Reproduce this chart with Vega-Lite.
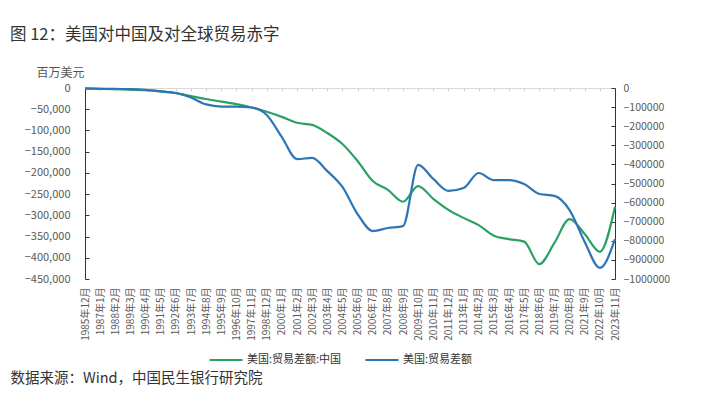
{
  "$schema": "https://vega.github.io/schema/vega-lite/v6.json",
  "width": 530,
  "height": 191,
  "autosize": {"type": "none"},
  "padding": {"left": 85, "top": 88, "right": 98, "bottom": 119},
  "background": "white",
  "config": {"font": "Noto Sans CJK SC", "view": {"stroke": null}},
  "title": {"text": "图 12：美国对中国及对全球贸易赤字", "anchor": "start", "frame": "group", "dx": -75, "offset": 10, "baseline": "alphabetic", "fontSize": 16.5, "fontWeight": "normal", "color": "#333333", "font": "Noto Sans CJK SC"},
  "data": {"values": [
    {"date": "1985年12月", "china": -1000, "total": -3000},
    {"date": "1987年1月", "china": -2000, "total": -4000},
    {"date": "1988年2月", "china": -3000, "total": -5000},
    {"date": "1989年3月", "china": -4000, "total": -6000},
    {"date": "1990年4月", "china": -5000, "total": -10000},
    {"date": "1991年5月", "china": -8000, "total": -18000},
    {"date": "1992年6月", "china": -12000, "total": -26000},
    {"date": "1993年7月", "china": -19000, "total": -50000},
    {"date": "1994年8月", "china": -26000, "total": -86000},
    {"date": "1995年9月", "china": -32000, "total": -97000},
    {"date": "1996年10月", "china": -38000, "total": -97000},
    {"date": "1997年11月", "china": -46000, "total": -102000},
    {"date": "1998年12月", "china": -56000, "total": -141000},
    {"date": "2000年1月", "china": -68000, "total": -257000},
    {"date": "2001年2月", "china": -82000, "total": -372000},
    {"date": "2002年3月", "china": -87000, "total": -366000},
    {"date": "2003年4月", "china": -106000, "total": -435000},
    {"date": "2004年5月", "china": -132000, "total": -518000},
    {"date": "2005年6月", "china": -172000, "total": -660000},
    {"date": "2006年7月", "china": -219000, "total": -749000},
    {"date": "2007年8月", "china": -240000, "total": -733000},
    {"date": "2008年9月", "china": -268000, "total": -723000},
    {"date": "2009年10月", "china": -231000, "total": -403000},
    {"date": "2010年11月", "china": -261000, "total": -476000},
    {"date": "2011年12月", "china": -287000, "total": -539000},
    {"date": "2013年1月", "china": -306000, "total": -524000},
    {"date": "2014年2月", "china": -323000, "total": -445000},
    {"date": "2015年3月", "china": -348000, "total": -482000},
    {"date": "2016年4月", "china": -356000, "total": -482000},
    {"date": "2017年5月", "china": -362000, "total": -503000},
    {"date": "2018年6月", "china": -415000, "total": -555000},
    {"date": "2019年7月", "china": -365000, "total": -565000},
    {"date": "2020年8月", "china": -309000, "total": -639000},
    {"date": "2021年9月", "china": -344000, "total": -806000},
    {"date": "2022年10月", "china": -386000, "total": -942000},
    {"date": "2023年11月", "china": -280000, "total": -791000}
  ]},
  "layer": [
    {
      "mark": {"type": "line", "interpolate": "monotone", "strokeWidth": 2.2},
      "encoding": {
        "x": {"field": "date", "type": "ordinal", "sort": null, "scale": {"type": "point", "padding": 0},
          "axis": {"orient": "bottom", "labelAngle": -90, "labelAlign": "right", "labelBaseline": "middle", "labelPadding": 8, "labelFontSize": 10, "labelColor": "#595959", "labelOverlap": false, "ticks": false, "domain": false,
            "title": "数据来源：Wind，中国民生银行研究院", "titleX": -75, "titleY": 103, "titleAlign": "left", "titleBaseline": "alphabetic", "titleAngle": 0, "titleFontSize": 14.5, "titleFontWeight": "normal", "titleColor": "#333333"}},
        "y": {"field": "china", "type": "quantitative", "scale": {"domain": [-450000, 0], "nice": false},
          "axis": {"orient": "left", "values": [0, -50000, -100000, -150000, -200000, -250000, -300000, -350000, -400000, -450000], "format": ",d", "grid": false, "tickSize": -4, "labelPadding": 19, "labelFontSize": 11, "labelColor": "#595959", "domainColor": "#333333", "tickColor": "#333333",
            "title": "百万美元", "titleAngle": 0, "titleX": -49, "titleY": -16, "titleAlign": "left", "titleBaseline": "middle", "titleFontSize": 12, "titleFontWeight": "normal", "titleColor": "#555555"}},
        "color": {"datum": "美国:贸易差额:中国", "type": "nominal",
          "scale": {"domain": ["美国:贸易差额:中国", "美国:贸易差额"], "range": ["#2aa162", "#2e75b6"]},
          "legend": {"orient": "none", "legendX": 123, "legendY": 254, "direction": "horizontal", "title": null, "symbolType": "stroke", "symbolSize": 1100, "symbolStrokeWidth": 2.2, "labelFontSize": 11, "labelColor": "#333333", "columnPadding": 19, "labelOffset": 3}}
      }
    },
    {
      "mark": {"type": "line", "interpolate": "monotone", "strokeWidth": 2.2},
      "encoding": {
        "x": {"field": "date", "type": "ordinal", "sort": null, "scale": {"type": "point", "padding": 0},
          "axis": {"orient": "top", "labels": false, "title": null, "domainColor": "#d9d9d9", "tickColor": "#cfcfcf", "tickSize": -3}},
        "y": {"field": "total", "type": "quantitative", "scale": {"domain": [-1000000, 0], "nice": false},
          "axis": {"orient": "right", "values": [0, -100000, -200000, -300000, -400000, -500000, -600000, -700000, -800000, -900000, -1000000], "format": "d", "grid": false, "tickSize": -4, "labelPadding": 12, "labelFontSize": 10.5, "labelColor": "#595959", "domainColor": "#333333", "tickColor": "#333333", "title": null}},
        "color": {"datum": "美国:贸易差额", "type": "nominal"}
      }
    }
  ],
  "resolve": {"scale": {"y": "independent"}, "axis": {"x": "independent", "y": "independent"}}
}
